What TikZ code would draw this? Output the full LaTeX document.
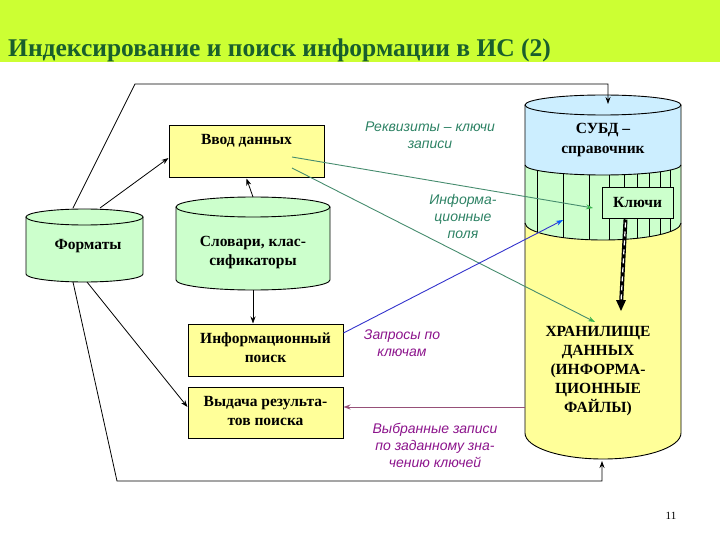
\documentclass[tikz,border=0pt]{standalone}
\usepackage{fontspec}
\setmainfont{Liberation Serif}
\newfontfamily\lsans{Liberation Sans}
\newfontfamily\titlefont{Liberation Serif}
\usetikzlibrary{arrows.meta,calc}
\definecolor{titlebg}{RGB}{204,255,51}
\definecolor{titletxt}{RGB}{25,95,45}
\definecolor{yfill}{RGB}{255,255,153}
\definecolor{gfill}{RGB}{204,255,204}
\definecolor{bfill}{RGB}{204,238,255}
\definecolor{tealline}{RGB}{70,140,110}
\definecolor{tealhead}{RGB}{60,180,80}
\definecolor{blueline}{RGB}{51,51,204}
\definecolor{bluehead}{RGB}{0,90,255}
\definecolor{purpline}{RGB}{150,80,120}
\definecolor{tealtxt}{RGB}{45,130,100}
\definecolor{purptxt}{RGB}{140,20,140}
\begin{document}
\begin{tikzpicture}[x=1pt,y=-1pt,
  box/.style={draw=black,line width=1pt,fill=yfill,inner sep=0pt},
  btext/.style={font=\bfseries\fontsize{15.5}{19}\selectfont,align=center,inner sep=0pt},
  lbl/.style={font=\lsans\itshape\fontsize{14}{17}\selectfont,align=center,inner sep=0pt},
  cyl/.style={draw=black,line width=0.9pt},
  conn/.style={draw=black,line width=0.8pt},
  arr/.style={-{Stealth[length=7pt,width=5pt]}},
]
\useasboundingbox (0,0) rectangle (720,540);
% title band
\fill[titlebg] (0,0) rectangle (720,62);
\node[anchor=base west,inner sep=0pt,text=titletxt,font=\titlefont\bfseries\fontsize{25.5}{30}\selectfont] (title) at (8,57) {Индексирование и поиск информации в ИС (2)};

% ---- big cylinder (storage) ----
\fill[yfill] (525,105) -- (525,433) arc[start angle=180,end angle=360,x radius=78pt,y radius=26pt] -- (681,105) -- cycle;
\fill[bfill] (525,105) -- (525,165) arc[start angle=180,end angle=360,x radius=78pt,y radius=10pt] -- (681,105) arc[start angle=0,end angle=180,x radius=78pt,y radius=10pt] -- cycle;
\fill[gfill] (525,165) arc[start angle=180,end angle=360,x radius=78pt,y radius=10pt] -- (681,223) arc[start angle=0,end angle=-180,x radius=78pt,y radius=17pt] -- cycle;
\begin{scope}
\clip (525,165) arc[start angle=180,end angle=360,x radius=78pt,y radius=10pt] -- (681,223) arc[start angle=0,end angle=-180,x radius=78pt,y radius=17pt] -- cycle;
\foreach \xx in {537,563,589,609,624,637,649,660,670}
  \draw[line width=0.7pt] (\xx,150) -- (\xx,245);
\end{scope}
\draw[cyl] (525,165) arc[start angle=180,end angle=360,x radius=78pt,y radius=10pt];
\draw[cyl] (525,223) arc[start angle=180,end angle=360,x radius=78pt,y radius=17pt];
\draw[cyl] (525,105) -- (525,433) arc[start angle=180,end angle=360,x radius=78pt,y radius=26pt] -- (681,105);
\draw[cyl] (603,105) ellipse[x radius=78pt,y radius=10pt];
\node[btext] (subd) at (603,140) {СУБД –\\[1pt]справочник};
\node[btext] (store) at (598,371) {ХРАНИЛИЩЕ\\ДАННЫХ\\(ИНФОРМА-\\ЦИОННЫЕ\\ФАЙЛЫ)};
\node[box,fill=gfill,minimum width=71pt,minimum height=31pt] (keys) at (637.5,203.5) {};
\node[btext] (keyst) at (637.5,203) {Ключи};

% ---- Форматы cylinder ----
\fill[gfill] (26,217) -- (26,274) arc[start angle=180,end angle=360,x radius=58.5pt,y radius=8pt] -- (143,217) arc[start angle=0,end angle=180,x radius=58.5pt,y radius=8pt] -- cycle;
\draw[cyl] (26,217) -- (26,274) arc[start angle=180,end angle=360,x radius=58.5pt,y radius=8pt] -- (143,217);
\draw[cyl] (84.5,217) ellipse[x radius=58.5pt,y radius=8pt];
\node[btext] (fmt) at (88,246) {Форматы};

% ---- Словари cylinder ----
\fill[gfill] (176,207) -- (176,280) arc[start angle=180,end angle=360,x radius=77pt,y radius=10pt] -- (330,207) arc[start angle=0,end angle=180,x radius=77pt,y radius=10pt] -- cycle;
\draw[cyl] (176,207) -- (176,280) arc[start angle=180,end angle=360,x radius=77pt,y radius=10pt] -- (330,207);
\draw[cyl] (253,207) ellipse[x radius=77pt,y radius=10pt];
\node[btext] (slov) at (253,253) {Словари, клас-\\сификаторы};

% ---- boxes ----
\node[box,minimum width=155pt,minimum height=52pt] (vvod) at (246.5,152) {};
\node[btext] (vvodt) at (246.5,141) {Ввод данных};
\node[box,minimum width=155pt,minimum height=52pt] (poisk) at (265.5,350) {};
\node[btext] (poiskt) at (265.5,348) {Информационный\\поиск};
\node[box,minimum width=155pt,minimum height=51pt] (vyd) at (265.5,412.5) {};
\node[btext] (vydt) at (265.5,411) {Выдача результа-\\тов  поиска};

% ---- coordinates ----
\coordinate (fA) at (73,208);
\coordinate (fB) at (100,208);
\coordinate (fC) at (87,282);
\coordinate (fD) at (73,282);
\coordinate (cTL) at (135,84);
\coordinate (cTR) at (608,84);
\coordinate (subdTop) at (608,104);
\coordinate (cBL) at (117,481);
\coordinate (cBR) at (602,481);
\coordinate (storeBot) at (602,461);
\coordinate (slovTop) at (253,197);
\coordinate (slovBot) at (253,290);
\coordinate (vvodR1) at (292,157);
\coordinate (vvodR2) at (292,168);
\coordinate (fieldPt) at (593,208);
\coordinate (storePt) at (595,322);
\coordinate (reqPt) at (563,220);
\coordinate (storeL) at (525,407);
\coordinate (keysEnd) at (621,311);

% ---- black connectors ----
\draw[conn,arr] (fA) -- (cTL) -- (cTR) -- (subdTop);
\draw[conn,arr] (fB) -- ($(vvod.west)+(0,6)$);
\draw[conn,arr] (fC) -- (vyd.west |- storeL);
\draw[conn,arr] (fD) -- (cBL) -- (cBR) -- (storeBot);
\draw[conn,arr] (slovTop) -- (vvod.south);
\draw[conn,arr] (slovBot) -- (poisk.north -| slovBot);

% ---- green connectors ----
\draw[tealline,line width=0.9pt,-{Stealth[length=7pt,width=5pt,color=tealhead]}] (vvodR1) -- (fieldPt);
\draw[tealline,line width=0.9pt,-{Stealth[length=7pt,width=5pt,color=tealhead]}] (vvodR2) -- (storePt);
% ---- blue ----
\draw[blueline,line width=0.9pt,-{Stealth[length=7pt,width=5pt,color=bluehead]}] ($(poisk.east)+(0,-17)$) -- (reqPt);
% ---- purple ----
\draw[purpline,line width=0.9pt,-{Stealth[length=7pt,width=5pt]}] (storeL) -- (vyd.east |- storeL);

% ---- keys double arrow ----
\draw[black,line width=4pt] ($(keys.south)+(-12,0)$) -- ($(keysEnd)+(0,-6)$);
\draw[white,line width=1.2pt,dash pattern=on 5pt off 4pt] ($(keys.south)+(-12,3)$) -- ($(keysEnd)+(0,-9)$);
\fill[black] (keysEnd) -- ++(-5,-11) -- ++(10,0) -- cycle;

% ---- labels ----
\node[lbl,text=tealtxt] (lab1) at (430,135) {Реквизиты – ключи\\записи};
\node[lbl,text=tealtxt] (lab2) at (463,216.5) {Информа-\\ционные\\поля};
\node[lbl,text=purptxt] (lab3) at (402,343.5) {Запросы по\\ключам};
\node[lbl,text=purptxt] (lab4) at (435,445.5) {Выбранные записи\\по заданному зна-\\чению ключей};

\node[font=\fontsize{11}{13}\selectfont,inner sep=0pt] (pg) at (671,516) {11};
\end{tikzpicture}
\end{document}
